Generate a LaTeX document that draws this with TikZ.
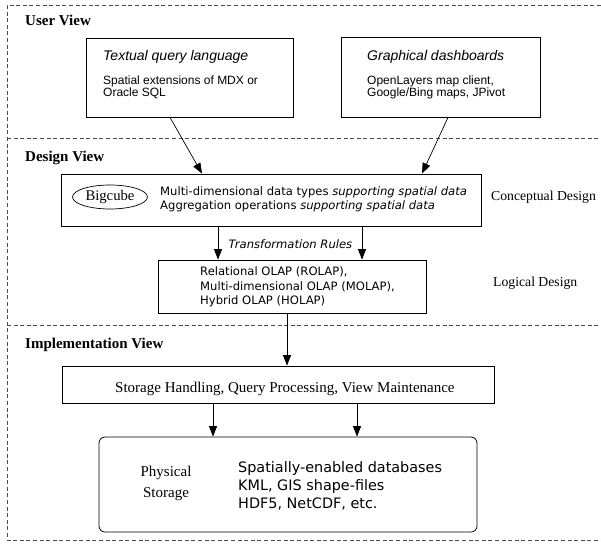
\documentclass[tikz,border=0pt]{standalone}
\usepackage{fontspec}
\setmainfont{Liberation Serif}
\newfontfamily\sansA{Liberation Sans}
\newfontfamily\sansB{DejaVu Sans}
\usetikzlibrary{arrows.meta}
\usetikzlibrary{shapes.geometric}
\tikzstyle{block} = [rectangle, draw, line width=0.8pt, inner sep=0pt]
\tikzstyle{rblock} = [block, rounded corners=6pt]
\tikzstyle{txt} = [inner sep=0pt, align=left]
\tikzstyle{viewline} = [draw=black!70, line width=0.7pt, dash pattern=on 4pt off 2.6pt]
\tikzstyle{flow} = [-{Triangle[length=10.5pt,width=8pt]}, line width=0.7pt]

\begin{document}
\begin{tikzpicture}[x=1pt, y=-1pt]
   \useasboundingbox (0,0) rectangle (601,543);
   % View frames
   \draw[viewline] (601,5) -- (7,5) -- (7,540) -- (601,540);
   \draw[viewline] (7,138) -- (601,138);
   \draw[viewline] (7,325) -- (601,325);
   \node [txt, anchor=base west, font=\fontsize{15}{18}\selectfont\bfseries] (uv) at (25,26) {User View};
   \node [txt, anchor=base west, font=\fontsize{15}{18}\selectfont\bfseries] (dv) at (25,161) {Design View};
   \node [txt, anchor=base west, font=\fontsize{15}{18}\selectfont\bfseries] (iv) at (25,348) {Implementation View};
   % Place nodes
   \node [block, minimum width=207pt, minimum height=79pt] (tql) at (189.5,77.5) {};
   \node [txt, anchor=base west, font=\sansA\fontsize{14}{16}\selectfont\itshape] (tql-t) at (103,60) {Textual query language};
   \node [txt, anchor=north west, font=\sansA\fontsize{12}{12.5}\selectfont] (tql-b) at (103,75.5) {Spatial extensions of MDX or\\ Oracle SQL};
   \node [block, minimum width=199pt, minimum height=80pt] (gfx) at (440.5,77) {};
   \node [txt, anchor=base west, font=\sansA\fontsize{14}{16}\selectfont\itshape] (gfx-t) at (367,60) {Graphical dashboards};
   \node [txt, anchor=north west, font=\sansA\fontsize{12}{12.5}\selectfont] (gfx-b) at (367,75.5) {OpenLayers map client,\\ Google/Bing maps, JPivot};
   \node [block, minimum width=420pt, minimum height=52pt] (cds) at (271,200) {};
   \node [draw, ellipse, line width=0.7pt, inner sep=0pt, minimum width=75pt, minimum height=24pt, font=\fontsize{14.7}{16}\selectfont] (bc) at (110,197) {Bigcube};
   \node [txt, anchor=north west, font=\sansB\fontsize{11.6}{14}\selectfont] (cds-t) at (160,186) {Multi-dimensional data types \textit{supporting spatial data}\\ Aggregation operations \textit{supporting spatial data}};
   \node [txt, anchor=west, font=\fontsize{13.7}{16}\selectfont] (cd) at (491,197) {Conceptual Design};
   \node [inner sep=0pt, font=\sansB\fontsize{11.6}{14}\selectfont\itshape] (tr) at (290.5,244) {Transformation Rules};
   \node [block, minimum width=268pt, minimum height=53pt] (lds) at (292,286.5) {};
   \node [txt, anchor=north west, font=\sansB\fontsize{11.6}{14.5}\selectfont] (lds-t) at (200,266.5) {Relational OLAP (ROLAP),\\ Multi-dimensional OLAP (MOLAP),\\ Hybrid OLAP (HOLAP)};
   \node [txt, anchor=west, font=\fontsize{13.7}{16}\selectfont] (ld) at (493,283) {Logical Design};
   \node [block, minimum width=432pt, minimum height=37pt] (sto) at (278,384.5) {};
   \node [txt, anchor=base west, font=\fontsize{15}{18}\selectfont] (sto-t) at (115,392) {Storage Handling, Query Processing, View Maintenance};
   \node [rblock, minimum width=378pt, minimum height=95pt] (phy) at (288,484.5) {};
   \node [inner sep=0pt, align=center, font=\fontsize{15}{21}\selectfont] (phy-l) at (166,483) {Physical\\ Storage};
   \node [txt, anchor=north west, font=\sansB\fontsize{14.4}{18}\selectfont] (phy-t) at (238,461) {Spatially-enabled databases\\ KML, GIS shape-files\\ HDF5, NetCDF, etc.};
   % Connectors
   \draw[flow] ([xshift=-19.5pt]tql.south) -- ([xshift=-69pt]cds.north);
   \draw[flow] ([xshift=7.5pt]gfx.south) -- ([xshift=151pt]cds.north);
   \draw[flow] ([xshift=-53pt]cds.south) -- ([xshift=-74pt]lds.north);
   \draw[flow] ([xshift=91pt]cds.south) -- ([xshift=70pt]lds.north);
   \draw[flow] ([xshift=-5pt]lds.south) -- ([xshift=9pt]sto.north);
   \draw[flow] ([xshift=-65pt]sto.south) -- ([xshift=-75pt]phy.north);
   \draw[flow] ([xshift=79pt]sto.south) -- ([xshift=69pt]phy.north);
\end{tikzpicture}
\end{document}
